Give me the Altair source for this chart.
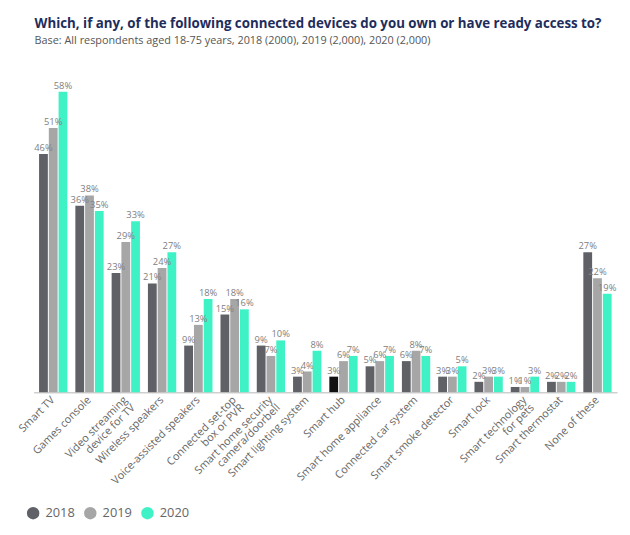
import altair as alt
import pandas as pd

devices = [
    "Smart TV", "Games console", "Video streaming\ndevice for TV", "Wireless speakers",
    "Voice-assisted speakers", "Connected set-top\nbox or PVR",
    "Smart home security\ncamera/doorbell", "Smart lighting system", "Smart hub",
    "Smart home appliance", "Connected car system", "Smart smoke detector",
    "Smart lock", "Smart technology\nfor pets", "Smart thermostat", "None of these",
]
v2018 = [46, 36, 23, 21, 9, 15, 9, 3, 3, 5, 6, 3, 2, 1, 2, 27]
v2019 = [51, 38, 29, 24, 13, 18, 7, 4, 6, 6, 8, 3, 3, 1, 2, 22]
v2020 = [58, 35, 33, 27, 18, 16, 10, 8, 7, 7, 7, 5, 3, 3, 2, 19]
years = ["2018", "2019", "2020"]
colors = ["#5f6166", "#a6a6a6", "#3ff2c6"]

rows = []
for i, d in enumerate(devices):
    for y, vals in zip(years, [v2018, v2019, v2020]):
        rows.append({"device": d, "year": y, "value": vals[i]})
df = pd.DataFrame(rows)

x = alt.X(
    "device:N", sort=devices, title=None,
    scale=alt.Scale(paddingInner=0.22, paddingOuter=0.15),
    axis=alt.Axis(labelAngle=-45, labelAlign="right", labelBaseline="middle",
                  ticks=False, domainColor="#cfcfcf", domainWidth=1.5,
                  labelExpr="split(datum.label, '\\n')", labelFontSize=11,
                  labelColor="#666666", labelPadding=6, labelLineHeight=11,
                  labelFont="Open Sans", labelOverlap=False, labelLimit=200),
)
y = alt.Y("value:Q", scale=alt.Scale(domain=[0, 59]), axis=None)
xo = alt.XOffset("year:N", sort=years, scale=alt.Scale(paddingInner=0.1))

base = alt.Chart(df).encode(x=x, y=y, xOffset=xo)

bars = base.mark_bar().encode(
    color=alt.condition(
        "datum.device == 'Smart hub' && datum.year == '2018'",
        alt.value("#111111"),
        alt.Color("year:N", sort=years,
                  scale=alt.Scale(domain=years, range=colors),
                  legend=alt.Legend(title=None, orient="none", direction="horizontal",
                                    legendX=-7, legendY=426, symbolType="circle",
                                    symbolSize=160, labelFontSize=13, labelColor="#666666",
                                    labelFont="Open Sans", symbolStrokeWidth=0,
                                    columnPadding=9, labelOffset=6)),
    )
)

labels = base.mark_text(dy=-6, fontSize=9.5, color="#808080", font="Open Sans").encode(
    text=alt.Text("label:N")
).transform_calculate(label="datum.value + '%'")

chart = (
    alt.layer(bars, labels)
    .properties(
        width=592, height=310,
        padding={"left": 8, "top": 5, "right": 5, "bottom": 5},
        title=alt.TitleParams(
            text="Which, if any, of the following connected devices do you own or have ready access to?",
            subtitle="Base: All respondents aged 18-75 years, 2018 (2000), 2019 (2,000), 2020 (2,000)",
            anchor="start", frame="group", dx=1, fontSize=13.5, fontWeight="bold",
            color="#1e2d5c", font="Open Sans", subtitleFont="Open Sans",
            subtitleFontSize=11, subtitleColor="#555555", subtitlePadding=4, offset=36,
        ),
    )
    .configure_view(stroke=None)
)

chart.save("out.html", embed_options={"renderer": "svg", "actions": False})
